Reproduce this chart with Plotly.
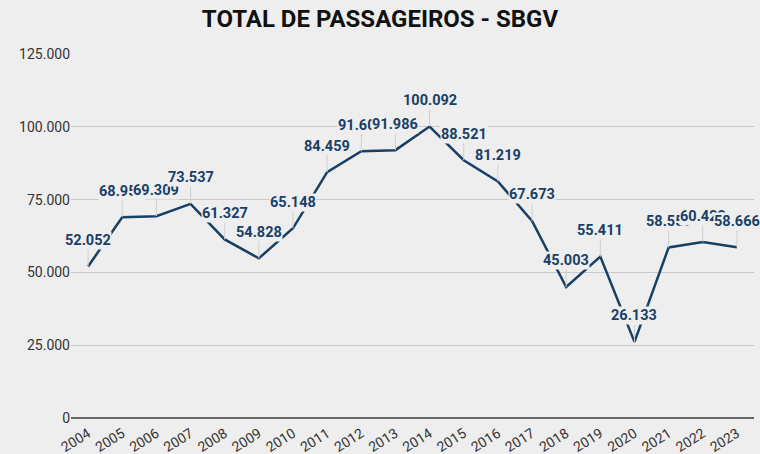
import plotly.graph_objects as go

years = [str(y) for y in range(2004, 2024)]
passengers = [52052, 68959, 69309, 73537, 61327, 54828, 65148, 84459, 91605, 91986,
              100092, 88521, 81219, 67673, 45003, 55411, 26133, 58559, 60422, 58666]
y_ticks = [0, 25000, 50000, 75000, 100000, 125000]
y_tick_labels = ["0", "25.000", "50.000", "75.000", "100.000", "125.000"]

BG = "#eeeeee"
NAVY = "#183f66"


def fmt(v):
    return f"{v:,}".replace(",", ".")


fig = go.Figure()
fig.add_trace(go.Scatter(
    x=years, y=passengers, mode="lines",
    line=dict(color=NAVY, width=2.5),
    hoverinfo="x+y", showlegend=False,
))

for i, v in enumerate(passengers):
    fig.add_annotation(
        x=i, y=v, xref="x", yref="y",
        text=fmt(v), showarrow=True, ax=0, ay=-26,
        arrowhead=0, arrowwidth=1, arrowcolor="#cfcfcf", standoff=0,
        bgcolor=BG, borderpad=0,
        font=dict(family="Roboto", size=14.5, color=NAVY, weight=700),
    )

fig.update_layout(
    width=760, height=454,
    paper_bgcolor=BG, plot_bgcolor=BG,
    margin=dict(l=71, r=6, t=54, b=36, autoexpand=False),
    title=dict(text="TOTAL DE PASSAGEIROS - SBGV", x=0.5, xanchor="center",
               y=1 - 18.5 / 454, yanchor="middle", yref="container",
               font=dict(family="Roboto", size=24, color="#111111", weight=700)),
    xaxis=dict(type="category", range=[-0.5, 19.5], showgrid=False, automargin=False,
               tickangle=-32, ticks="", ticklabelstandoff=4,
               tickfont=dict(family="Roboto", size=14, color="#333333"),
               showline=False, zeroline=False),
    yaxis=dict(range=[0, 125000], tickvals=y_ticks, ticktext=y_tick_labels, automargin=False,
               showgrid=True, gridcolor="#c8c8c8", gridwidth=1.2,
               zeroline=True, zerolinecolor="#666666", zerolinewidth=1.8,
               tickfont=dict(family="Roboto", size=14, color="#333333"),
               ticks="", showline=False),
)

fig.write_html(
    "out.html",
    config={"displayModeBar": False},
    post_script="document.body.style.margin='0';document.body.style.overflow='hidden';"
                "document.documentElement.style.overflow='hidden';",
)
